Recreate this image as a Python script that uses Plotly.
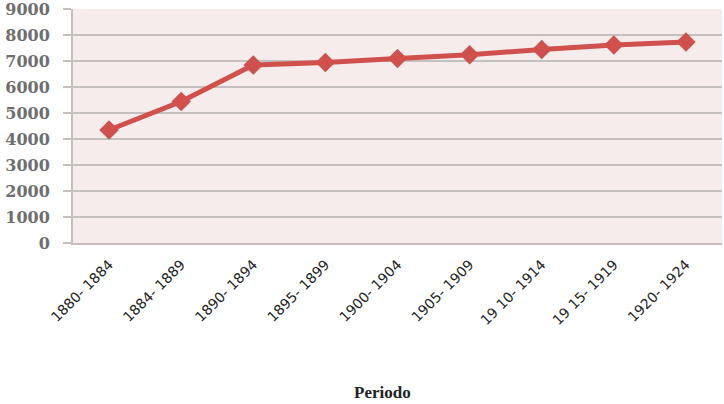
import plotly.graph_objects as go

categories = ["1880- 1884", "1884- 1889", "1890- 1894", "1895- 1899", "1900- 1904",
              "1905- 1909", "19 10- 1914", "19 15- 1919", "1920- 1924"]
values = [4350, 5450, 6850, 6950, 7100, 7250, 7450, 7620, 7740]
y_ticks = [0, 1000, 2000, 3000, 4000, 5000, 6000, 7000, 8000, 9000]

fig = go.Figure()
fig.add_trace(go.Scatter(
    x=categories, y=values, mode="lines+markers",
    line=dict(color="#d0504e", width=5),
    marker=dict(symbol="diamond", size=15, color="#d0504e"),
    showlegend=False,
))

fig.update_layout(
    width=724, height=404,
    margin=dict(l=73, r=2, t=9, b=161),
    paper_bgcolor="white",
    plot_bgcolor="#f6ecec",
    xaxis=dict(
        type="category",
        tickangle=-45,
        tickfont=dict(family="DejaVu Sans", size=14, color="#222222"),
        showgrid=False,
        showline=True, linecolor="#c8bcbc", linewidth=2,
        ticks="", range=[-0.5, 8.5],
        ticklabelstandoff=6,
        automargin=False,
    ),
    yaxis=dict(
        range=[0, 9010],
        tickvals=y_ticks,
        tickfont=dict(family="DejaVu Serif", size=16, color="#6e6e6e", weight="bold"),
        showgrid=True, gridcolor="#c4c0c0", gridwidth=2,
        showline=True, linecolor="#c8bcbc", linewidth=2,
        zeroline=False,
        ticks="outside", ticklen=8, tickcolor="#c4c0c0", tickwidth=2,
        ticklabelstandoff=10,
        ticklabeloverflow="allow",
        automargin=False,
    ),
    annotations=[dict(
        text="<b>Periodo</b>", xref="paper", yref="paper",
        x=(382 - 73) / 649, y=(243 - 392) / 234,
        xanchor="center", yanchor="middle", showarrow=False,
        font=dict(family="Liberation Serif", size=17, color="#222222"),
    )],
)

fig.write_html("out.html", config={"displayModeBar": False},
               post_script="document.body.style.margin='0px';")
